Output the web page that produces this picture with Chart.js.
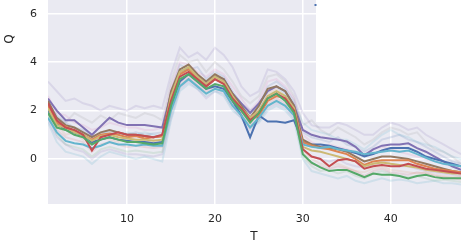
<!DOCTYPE html>
<html>
<head>
<meta charset="utf-8">
<script src="https://cdn.jsdelivr.net/npm/chart.js@4/dist/chart.umd.min.js"></script>
<style>
  body { margin: 0; background: #fff; }
  canvas { display: block; }
</style>
</head>
<body>
<canvas id="chart" width="461" height="244"></canvas>
<script>
// T values (x axis)
const T = [1,2,3,4,5,6,7,8,9,10,11,12,13,14,15,16,17,18,19,20,21,22,23,24,
           25,26,27,28,29,30,31,32,33,34,35,36,37,38,39,40,41,42,43,44,45,46,47,48];

const xTicks = [10, 20, 30, 40];
const yTicks = [0, 2, 4, 6];

// bold lines
const qPurple = [2.5,2.0,1.6,1.6,1.3,1.0,1.35,1.7,1.5,1.4,1.4,1.4,1.35,1.3,
  2.7,3.6,3.75,3.4,3.1,3.4,3.3,2.7,2.3,1.9,2.3,2.8,3.0,2.8,2.2,
  1.2,1.0,0.9,0.85,0.8,0.72,0.5,0.15,0.4,0.55,0.6,0.6,0.65,0.45,0.3,0.1,-0.1,-0.3,-0.45];
const qBlue = [2.0,1.5,1.2,1.1,1.0,0.7,0.8,0.9,0.8,0.75,0.7,0.7,0.65,0.7,
  2.2,3.2,3.5,3.2,2.9,3.0,2.9,2.4,1.8,0.9,1.8,1.55,1.55,1.5,1.6,
  0.7,0.6,0.6,0.55,0.45,0.35,0.25,0.1,0.2,0.35,0.45,0.45,0.45,0.3,0.1,0.0,-0.1,-0.2,-0.3];
const qCyan = [1.7,1.1,0.75,0.65,0.6,0.45,0.55,0.7,0.6,0.6,0.55,0.6,0.55,0.55,
  2.0,3.0,3.3,3.0,2.7,2.9,2.8,2.2,1.8,1.3,1.7,2.2,2.4,2.2,1.8,
  0.6,0.5,0.45,0.5,0.4,0.35,0.3,0.2,0.25,0.3,0.35,0.3,0.35,0.2,0.05,-0.1,-0.2,-0.25,-0.3];
const qRed = [2.3,1.6,1.3,1.2,1.0,0.35,0.9,1.0,1.1,1.0,1.0,0.95,0.9,1.0,
  2.4,3.4,3.6,3.3,3.0,3.3,3.1,2.5,2.1,1.6,1.9,2.5,2.7,2.5,2.0,
  0.4,0.1,0.0,-0.3,-0.05,0.0,-0.1,-0.4,-0.3,-0.25,-0.3,-0.3,-0.2,-0.3,-0.4,-0.45,-0.5,-0.55,-0.6];
const qGreen = [1.9,1.3,1.2,1.0,0.9,0.6,0.8,0.9,0.8,0.7,0.7,0.65,0.6,0.65,
  2.2,3.3,3.5,3.2,2.9,3.1,3.0,2.4,2.0,1.5,1.9,2.5,2.7,2.4,1.9,
  0.2,-0.15,-0.35,-0.5,-0.45,-0.45,-0.6,-0.75,-0.6,-0.65,-0.65,-0.7,-0.8,-0.7,-0.65,-0.75,-0.8,-0.8,-0.8];
const qOrange = [2.2,1.5,1.35,1.15,1.0,0.8,1.0,1.05,1.0,0.9,0.95,0.85,0.9,0.95,
  2.5,3.5,3.7,3.3,3.0,3.3,3.1,2.5,2.0,1.6,1.8,2.4,2.6,2.5,2.0,
  0.7,0.55,0.45,0.4,0.3,0.2,0.0,-0.25,-0.1,-0.05,-0.05,-0.05,-0.05,-0.2,-0.3,-0.4,-0.45,-0.5,-0.55];
const qOlive = [2.1,1.4,1.3,1.1,1.0,0.75,0.95,1.0,0.9,0.85,0.8,0.8,0.75,0.8,
  2.6,3.6,3.8,3.4,3.1,3.4,3.2,2.6,2.1,1.7,2.0,2.6,2.8,2.6,2.1,
  0.5,0.35,0.3,0.2,0.1,0.0,-0.1,-0.3,-0.2,-0.15,-0.2,-0.25,-0.3,-0.35,-0.45,-0.5,-0.55,-0.6,-0.6];
const qBrown = [2.4,1.7,1.4,1.3,1.1,0.9,1.1,1.2,1.1,1.0,1.0,0.95,0.9,0.95,
  2.8,3.7,3.9,3.5,3.2,3.5,3.3,2.7,2.2,1.7,2.2,2.9,3.0,2.8,2.2,
  0.8,0.6,0.5,0.45,0.4,0.3,0.1,-0.1,0.0,0.1,0.1,0.05,0.0,-0.1,-0.2,-0.3,-0.4,-0.5,-0.55];

// faint lines
const qFaint1 = [3.2,2.8,2.4,2.5,2.3,2.2,2.0,2.2,2.1,2.0,2.2,2.1,2.2,2.1,
  3.5,4.6,4.2,4.4,4.1,4.6,4.3,3.8,3.0,2.6,2.8,3.7,3.6,3.3,2.8,
  1.9,1.4,1.3,1.3,1.5,1.4,1.2,1.0,1.0,1.3,1.5,1.4,1.2,1.3,1.0,0.8,0.6,0.4,0.2];
const qFaint2 = [1.5,0.7,0.3,0.2,0.1,-0.2,0.1,0.3,0.2,0.1,0.0,0.1,0.0,-0.1,
  1.6,2.8,3.1,2.9,2.6,2.8,2.6,2.0,1.7,1.3,1.5,2.0,2.2,2.0,1.6,
  0.0,-0.5,-0.6,-0.7,-0.8,-0.7,-0.9,-1.0,-0.9,-0.8,-0.9,-0.85,-0.9,-1.0,-0.95,-0.9,-1.0,-1.0,-1.05];
const qFaint3 = [2.6,1.9,1.8,1.5,1.4,1.2,1.3,1.5,1.4,1.3,1.3,1.2,1.2,1.3,
  3.0,4.0,3.9,3.6,3.4,3.7,3.5,3.0,2.5,2.0,2.4,3.2,3.3,3.0,2.5,
  1.0,0.7,0.5,0.6,0.5,0.4,0.3,0.2,0.4,0.5,0.4,0.3,0.2,0.1,0.0,-0.1,-0.2,-0.3,-0.4];
const qFaint4 = [2.2,1.7,1.5,1.9,1.7,1.5,1.8,1.6,1.9,1.8,1.7,1.9,1.8,1.6,
  3.2,4.3,4.0,4.1,3.6,4.0,3.7,3.2,2.6,2.3,2.6,3.4,3.5,3.2,2.6,
  1.4,1.6,1.2,1.0,1.3,1.1,0.9,0.6,0.8,1.1,1.3,1.2,1.0,1.1,0.7,0.4,0.3,0.1,-0.2];
const qFaint5 = [1.8,1.0,0.6,0.5,0.4,0.1,0.4,0.5,0.4,0.3,0.35,0.3,0.25,0.3,
  1.9,3.0,3.3,3.0,2.7,2.9,2.8,2.2,1.8,1.3,1.6,2.2,2.4,2.2,1.8,
  0.1,-0.3,-0.5,-0.45,-0.6,-0.5,-0.7,-0.8,-0.6,-0.5,-0.6,-0.7,-0.75,-0.7,-0.8,-0.9,-0.85,-0.9,-0.95];
const qFaint6 = [2.0,1.4,1.0,1.1,0.8,0.6,0.9,0.8,0.7,0.9,0.8,0.7,0.8,0.7,
  2.4,3.6,3.5,3.5,3.1,3.4,3.2,2.6,2.1,1.8,2.0,2.7,2.9,2.6,2.1,
  0.3,0.0,-0.2,-0.3,-0.2,-0.35,-0.5,-0.55,-0.4,-0.3,-0.45,-0.5,-0.55,-0.6,-0.55,-0.65,-0.7,-0.75,-0.7];
const qFaint7 = [2.3,1.8,1.5,1.3,1.2,0.9,1.0,1.2,1.1,1.0,1.1,1.0,1.05,1.1,
  2.8,3.9,3.7,3.8,3.3,3.6,3.4,2.8,2.3,2.0,2.2,3.0,3.2,2.9,2.4,
  1.1,0.9,0.8,0.7,0.9,0.6,0.5,0.3,0.5,0.8,0.9,1.0,0.8,0.7,0.5,0.3,0.1,-0.1,-0.2];
const qFaint8 = [1.9,1.2,0.9,0.8,0.7,0.3,0.6,0.7,0.6,0.5,0.55,0.5,0.45,0.5,
  2.1,3.1,3.4,3.1,2.8,3.0,2.9,2.3,1.9,1.4,1.7,2.3,2.5,2.3,1.9,
  0.2,-0.2,-0.3,-0.4,-0.3,-0.4,-0.5,-0.7,-0.5,-0.4,-0.55,-0.6,-0.65,-0.55,-0.6,-0.7,-0.75,-0.8,-0.85];
const qFaint9 = [1.6,0.9,0.6,0.4,0.3,0.0,0.3,0.4,0.3,0.2,0.2,0.15,0.1,0.2,
  1.7,2.9,3.2,2.9,2.5,2.8,2.7,2.1,1.7,1.2,1.6,2.1,2.3,2.1,1.7,
  0.4,0.1,0.0,-0.1,0.0,-0.2,-0.3,-0.35,-0.2,-0.1,-0.2,-0.3,-0.3,-0.4,-0.5,-0.55,-0.6,-0.65,-0.7];
const qFaint10 = [2.1,1.6,1.4,1.2,1.1,0.8,1.1,1.1,1.0,1.1,1.0,1.1,1.0,0.95,
  2.6,3.7,3.8,3.4,3.0,3.3,3.2,2.6,2.2,1.9,2.1,2.8,3.0,2.7,2.3,
  1.5,1.2,1.1,1.0,0.8,0.8,0.6,0.4,0.7,1.0,1.2,1.0,0.9,0.7,0.6,0.5,0.3,0.1,0.0];

const boldSeries = [
  [qGreen, '#55A868'], [qRed, '#C44E52'], [qCyan, '#64B5CD'], [qOlive, '#CCB974'],
  [qOrange, '#DD8452'], [qBrown, '#937860'], [qBlue, '#4C72B0'], [qPurple, '#8172B3']
];
const faintSeries = [
  [qFaint1, 'rgba(129,114,179,0.16)'], [qFaint2, 'rgba(100,181,205,0.2)'],
  [qFaint3, 'rgba(218,139,195,0.2)'], [qFaint4, 'rgba(140,140,140,0.15)'],
  [qFaint5, 'rgba(85,168,104,0.15)'], [qFaint6, 'rgba(221,132,82,0.15)'],
  [qFaint7, 'rgba(76,114,176,0.16)'], [qFaint8, 'rgba(196,78,82,0.14)'],
  [qFaint9, 'rgba(129,114,179,0.16)'], [qFaint10, 'rgba(100,181,205,0.18)']
];

const toPoints = arr => arr.map((v, i) => ({ x: T[i], y: v }));

const datasets = [];
faintSeries.forEach(([arr, c]) => datasets.push({
  data: toPoints(arr), borderColor: c, borderWidth: 2, pointRadius: 0, order: 2, tension: 0
}));
boldSeries.forEach(([arr, c]) => datasets.push({
  data: toPoints(arr), borderColor: c, borderWidth: 2, pointRadius: 0, order: 1, tension: 0
}));

const TEXT = '#262626';
Chart.defaults.font.family = "'DejaVu Sans', sans-serif";
Chart.defaults.font.size = 11;
Chart.defaults.color = TEXT;

// fondo gris, leyenda cortada y titulos de ejes
const seabornLook = {
  id: 'seabornLook',
  beforeDraw(chart) {
    const { ctx, chartArea: a } = chart;
    ctx.save();
    ctx.fillStyle = '#EAEAF2';
    ctx.fillRect(a.left, a.top, a.right - a.left, a.bottom - a.top);
    ctx.restore();
  },
  afterDraw(chart) {
    const { ctx } = chart;
    ctx.save();
    ctx.fillStyle = '#ffffff';
    ctx.fillRect(316, 0, 145, 122);
    ctx.fillStyle = '#4C72B0';
    ctx.fillRect(314.5, 4, 2, 2);
    ctx.fillStyle = TEXT;
    ctx.font = "12px 'DejaVu Sans', sans-serif";
    ctx.textAlign = 'center';
    ctx.textBaseline = 'middle';
    ctx.fillText('T', 254, 237);
    ctx.translate(10, 39);
    ctx.rotate(-Math.PI / 2);
    ctx.fillText('Q', 0, 0);
    ctx.restore();
  }
};

new Chart(document.getElementById('chart'), {
  type: 'line',
  data: { datasets },
  options: {
    responsive: false,
    animation: false,
    layout: { padding: 0 },
    plugins: { legend: { display: false }, tooltip: { enabled: false } },
    scales: {
      x: {
        type: 'linear', min: 1, max: 48,
        afterBuildTicks: s => { s.ticks = xTicks.map(v => ({ value: v })); },
        afterFit: s => { s.height = 40; s.paddingLeft = 0; s.paddingRight = 0; },
        grid: { color: '#ffffff', lineWidth: 1.5, drawTicks: false },
        border: { display: false },
        ticks: { padding: 9, maxRotation: 0 }
      },
      y: {
        min: -1.86, max: 6.57,
        afterBuildTicks: s => { s.ticks = yTicks.map(v => ({ value: v })); },
        afterFit: s => { s.width = 48; s.paddingTop = 0; s.paddingBottom = 0; },
        grid: { color: '#ffffff', lineWidth: 1.5, drawTicks: false },
        border: { display: false },
        ticks: { padding: 11 }
      }
    }
  },
  plugins: [seabornLook]
});
</script>
</body>
</html>
